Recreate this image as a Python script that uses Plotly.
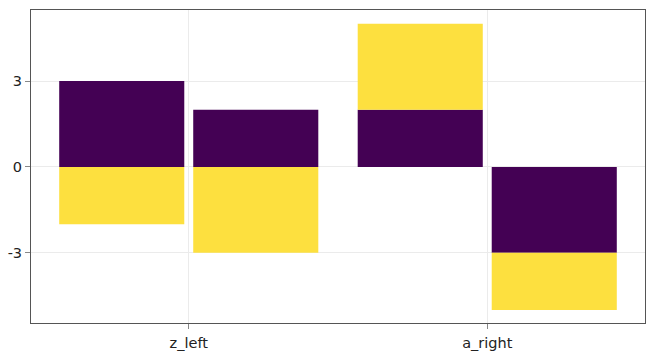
import plotly.graph_objects as go

categories = ["z_left", "a_right"]
cat_pos = [1, 2]
# two dodged bars per category, each stacked from two segments
purple_vals = [3, 2, 2, -3]
yellow_vals = [-2, -3, 3, -2]
dodge_idx = [0, 1, 0, 1]
cat_idx = [0, 0, 1, 1]

bar_w = 0.419
dodge_gap = 0.030
offsets = [-(bar_w + dodge_gap) / 2, (bar_w + dodge_gap) / 2]
xs = [cat_pos[c] + offsets[d] for c, d in zip(cat_idx, dodge_idx)]

fig = go.Figure()
fig.add_trace(go.Bar(x=xs, y=purple_vals, width=bar_w, marker=dict(color="#440154", line=dict(width=0)), showlegend=False))
fig.add_trace(go.Bar(x=xs, y=yellow_vals, width=bar_w, marker=dict(color="#FDE03F", line=dict(width=0)), showlegend=False))

axis_common = dict(
    showline=True, linecolor="#555555", linewidth=1, mirror=True,
    showgrid=True, gridcolor="#ebebeb", gridwidth=1,
    ticks="outside", ticklen=5, tickcolor="#888888",
    tickfont=dict(family="DejaVu Sans", size=14.5, color="#222222"),
    zeroline=False, automargin=False,
)
fig.update_layout(
    barmode="relative",
    width=654, height=364,
    margin=dict(l=31, r=9, t=10, b=41),
    paper_bgcolor="white", plot_bgcolor="white",
    xaxis=dict(range=[0.4715, 2.5285], tickvals=cat_pos, ticktext=categories,
               ticklabelstandoff=2, **axis_common),
    yaxis=dict(range=[-5.45, 5.48], tickvals=[-3, 0, 3], ticktext=["-3", "0", "3"], **axis_common),
)
fig.write_html(
    "out.html",
    config={"displayModeBar": False},
    post_script="document.body.style.margin='0';document.body.style.overflow='hidden';",
)
